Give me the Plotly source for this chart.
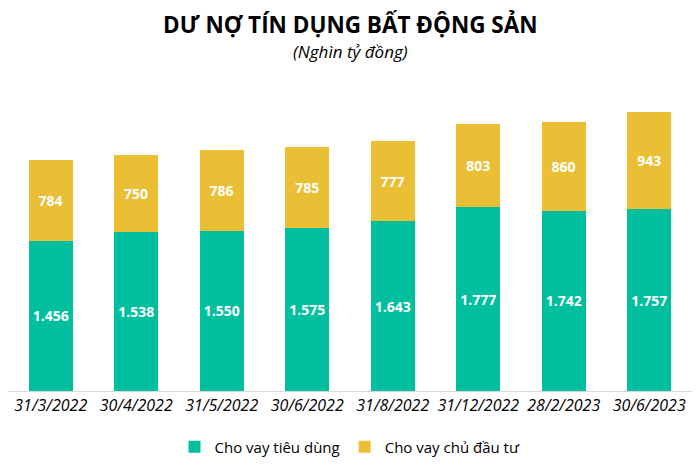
import plotly.graph_objects as go

dates = ["31/3/2022", "30/4/2022", "31/5/2022", "30/6/2022",
         "31/8/2022", "31/12/2022", "28/2/2023", "30/6/2023"]
tieu_dung = [1456, 1538, 1550, 1575, 1643, 1777, 1742, 1757]
chu_dau_tu = [784, 750, 786, 785, 777, 803, 860, 943]

GREEN = "#00BF9F"
YELLOW = "#EBBF35"

# page body has an 8px margin, so the figure is 8px smaller each way
W, H = 692, 458
TOP, BOTTOM = 73, 75


def fmt(v):
    return f"{v:,}".replace(",", ".")


fig = go.Figure()
fig.add_trace(go.Bar(
    x=dates, y=tieu_dung, name="Cho vay tiêu dùng",
    marker=dict(color=GREEN, line=dict(width=0)),
    text=[fmt(v) for v in tieu_dung],
    textposition="inside", insidetextanchor="middle",
    textfont=dict(family="Open Sans", size=14, color="white", weight="bold"),
))
fig.add_trace(go.Bar(
    x=dates, y=chu_dau_tu, name="Cho vay chủ đầu tư",
    marker=dict(color=YELLOW, line=dict(width=0)),
    text=[fmt(v) for v in chu_dau_tu],
    textposition="inside", insidetextanchor="middle",
    textfont=dict(family="Open Sans", size=15, color="white", weight="bold"),
))

fig.update_layout(
    width=W, height=H,
    barmode="stack", bargap=0.485,
    template="plotly_white",
    paper_bgcolor="white", plot_bgcolor="white",
    font=dict(family="Open Sans", color="black"),
    showlegend=True,
    uniformtext=dict(minsize=13, mode="show"),
    margin=dict(l=0, r=8, t=TOP, b=BOTTOM, autoexpand=False),
    legend=dict(
        orientation="h", traceorder="normal",
        x=0.5, xanchor="center", yref="container", y=19 / H, yanchor="middle",
        font=dict(family="Open Sans", size=15, color="black"),
        itemwidth=30,
    ),
    xaxis=dict(
        showline=True, linecolor="#D9D9D9", linewidth=1,
        showgrid=False, ticks="",
        tickfont=dict(family="Open Sans", size=16, color="black", style="italic"),
    ),
    yaxis=dict(visible=False, range=[0, 3000], showgrid=False),
)

ph = H - TOP - BOTTOM
fig.add_annotation(
    x=0.5, xref="paper", yref="paper", y=1 + (TOP - 16) / ph, yanchor="middle",
    showarrow=False, text="<b>DƯ NỢ TÍN DỤNG BẤT ĐỘNG SẢN</b>",
    font=dict(family="Open Sans", size=22.5, color="black"),
)
fig.add_annotation(
    x=0.5, xref="paper", yref="paper", y=1 + (TOP - 43) / ph, yanchor="middle",
    showarrow=False, text="<i>(Nghìn tỷ đồng)</i>",
    font=dict(family="Open Sans", size=17, color="black"),
)

fig.write_html("out.html")
